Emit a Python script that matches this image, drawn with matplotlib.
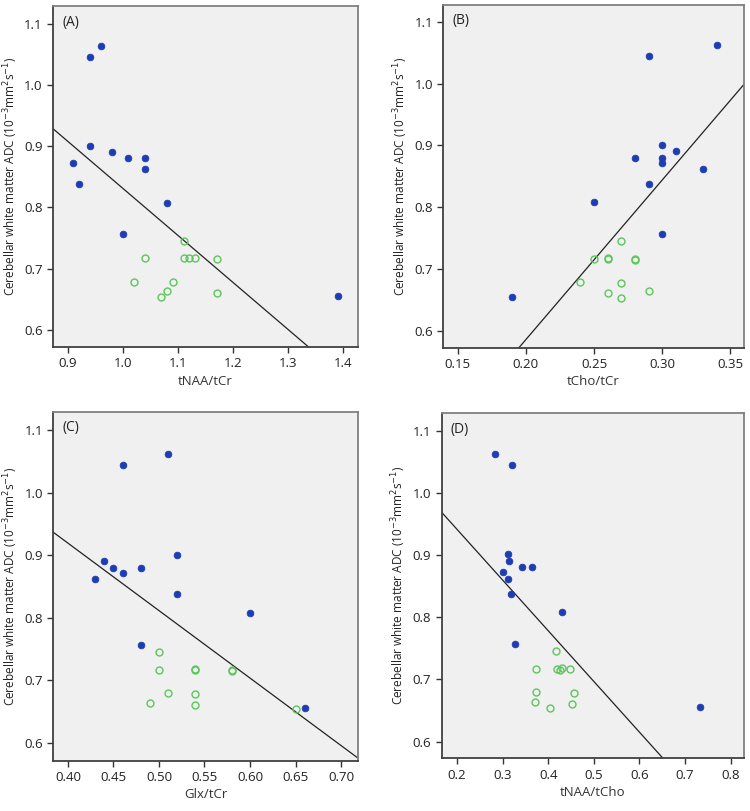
#!/usr/bin/env python3
import numpy as np
import matplotlib
matplotlib.use("Agg")
import matplotlib.pyplot as plt

# ADC values (10^-3 mm^2/s), same subjects in every panel
ADC_BLUE = [1.063, 1.045, 0.901, 0.891, 0.880, 0.880, 0.872, 0.862, 0.838, 0.808, 0.757, 0.655]
ADC_GREEN = [0.745, 0.717, 0.717, 0.717, 0.718, 0.715, 0.679, 0.678, 0.664, 0.654, 0.661]

# ratios per panel, blue (filled) points
NAA_CR_BLUE = [0.96, 0.94, 0.94, 0.98, 1.01, 1.04, 0.91, 1.04, 0.92, 1.08, 1.00, 1.39]
CHO_CR_BLUE = [0.34, 0.29, 0.30, 0.31, 0.28, 0.30, 0.30, 0.33, 0.29, 0.25, 0.30, 0.19]
GLX_CR_BLUE = [0.51, 0.46, 0.52, 0.44, 0.45, 0.48, 0.46, 0.43, 0.52, 0.60, 0.48, 0.66]
NAA_CHO_BLUE = [0.283, 0.320, 0.312, 0.313, 0.343, 0.365, 0.300, 0.312, 0.319, 0.430, 0.327, 0.733]

# ratios per panel, green (open) points
NAA_CR_GREEN = [1.11, 1.04, 1.11, 1.12, 1.13, 1.17, 1.02, 1.09, 1.08, 1.07, 1.17]
CHO_CR_GREEN = [0.27, 0.25, 0.26, 0.28, 0.26, 0.28, 0.24, 0.27, 0.29, 0.27, 0.26]
GLX_CR_GREEN = [0.50, 0.50, 0.54, 0.58, 0.54, 0.58, 0.51, 0.54, 0.49, 0.65, 0.54]
NAA_CHO_GREEN = [0.416, 0.374, 0.420, 0.447, 0.431, 0.425, 0.374, 0.456, 0.370, 0.403, 0.453]

# fit lines
FIT_SLOPE = [-0.768, 2.58, -1.081, -0.815]
FIT_INTERCEPT = [1.599, 0.070, 1.352, 1.104]

PANELS = ["(A)", "(B)", "(C)", "(D)"]
XLABELS = ["tNAA/tCr", "tCho/tCr", "Glx/tCr", "tNAA/tCho"]
XTICKS = [
    [0.9, 1.0, 1.1, 1.2, 1.3, 1.4],
    [0.15, 0.20, 0.25, 0.30, 0.35],
    [0.40, 0.45, 0.50, 0.55, 0.60, 0.65, 0.70],
    [0.2, 0.3, 0.4, 0.5, 0.6, 0.7, 0.8],
]
XFMT = ["{:.1f}", "{:.2f}", "{:.2f}", "{:.1f}"]
YTICKS = [0.6, 0.7, 0.8, 0.9, 1.0, 1.1]

BLUE = "#1f3db3"
GREEN = "#5cc65c"


def main():
    plt.rcParams["font.family"] = ["Open Sans", "DejaVu Sans"]
    fig = plt.figure(figsize=(7.5, 8.11), dpi=100)

    rects = [
        [0.0707, 0.5721, 0.4067, 0.4205],
        [0.5911, 0.5713, 0.4009, 0.4229],
        [0.0711, 0.0620, 0.4067, 0.4303],
        [0.5889, 0.0650, 0.4035, 0.4254],
    ]
    xlims = [(0.873, 1.427), (0.1395, 0.360), (0.384, 0.719), (0.166, 0.830)]
    ylims = [(0.572, 1.129), (0.573, 1.1275), (0.571, 1.130), (0.573, 1.128)]

    xb = [NAA_CR_BLUE, CHO_CR_BLUE, GLX_CR_BLUE, NAA_CHO_BLUE]
    xg = [NAA_CR_GREEN, CHO_CR_GREEN, GLX_CR_GREEN, NAA_CHO_GREEN]

    for i in range(4):
        ax = fig.add_axes(rects[i])
        ax.set_facecolor("#f0f0f0")
        ax.plot(xb[i], ADC_BLUE, "o", color=BLUE, markersize=4.8,
                markeredgewidth=0.6, zorder=3)
        ax.plot(xg[i], ADC_GREEN, "o", markerfacecolor="none",
                markeredgecolor=GREEN, markersize=5, markeredgewidth=1.0, zorder=3)
        ax.axline((0, FIT_INTERCEPT[i]), slope=FIT_SLOPE[i], color="#222222",
                  linewidth=0.9, zorder=2)

        ax.set_xlim(*xlims[i])
        ax.set_ylim(*ylims[i])
        ax.set_xticks(XTICKS[i])
        ax.set_xticklabels([XFMT[i].format(t) for t in XTICKS[i]])
        ax.set_yticks(YTICKS)
        ax.set_yticklabels(["{:.1f}".format(t) for t in YTICKS])
        ax.tick_params(labelsize=9.5, length=4, width=1.0, color="#333333",
                       labelcolor="#222222")

        for name, side in ax.spines.items():
            side.set_color("#404040" if name in ("left", "bottom") else "#808080")
            side.set_linewidth(1.3)

        ax.set_xlabel(XLABELS[i], fontsize=9.5, color="#333333", labelpad=3)
        ax.set_ylabel("Cerebellar white matter ADC (10$^{-3}$mm$^{2}$s$^{-1}$)",
                      fontsize=8.5, color="#222222", labelpad=3)
        ax.text(0.03, 0.975, PANELS[i], transform=ax.transAxes, fontsize=10,
                va="top", ha="left", color="#222222")

    fig.savefig("out.png", dpi=100)


if __name__ == "__main__":
    main()
